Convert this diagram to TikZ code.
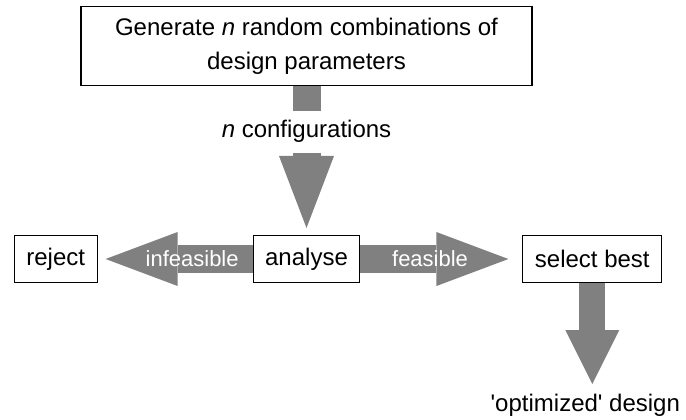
\documentclass[tikz,border=0pt]{standalone}
\usepackage{fontspec}
\setmainfont{Liberation Sans}
\usepackage{tikz}
\usetikzlibrary{arrows.meta}
\usetikzlibrary{positioning}
\definecolor{flowgray}{HTML}{808080}
\tikzset{
  % boxes and the grey block arrows
  box/.style={draw, line width=0.8pt, fill=white, inner xsep=9pt, minimum height=35.25pt},
  fat/.style={draw=flowgray, line width=21pt},
  flowlabel/.style={text=white, font=\fontsize{16.5}{20}\selectfont}
}

\begin{document}
\begin{tikzpicture}[font=\fontsize{18}{25.5}\selectfont]
    \useasboundingbox (0,0) rectangle (514.5pt,-314.25pt);

    % Place nodes
    \node [box] (analyse) at (229.875pt,-194.25pt) {analyse};
    \node [box, left=116.25pt of analyse] (reject) {reject};
    \node [box, right=121.5pt of analyse] (select) {select best};
    \node [box, align=center, minimum width=338.25pt, minimum height=59.25pt, above=111.75pt of analyse] (generate) {Generate \textit{n} random combinations of\\design parameters};
    \node [inner sep=0pt, minimum height=30.75pt, below=18.75pt of generate] (configs) {\textit{n} configurations};
    \node [inner sep=0pt, below=83.25pt of select, xshift=-5.25pt] (optimized) {\textquotesingle optimized\textquotesingle{} design};

    % Draw edges
    \draw [fat] (generate) -- (configs);
    \draw [fat, -{Triangle[length=54pt, width=41.25pt, line width=0pt]}, shorten >=5.25pt] (configs) -- (analyse);
    \draw [fat, -{Triangle[length=54pt, width=40.5pt, line width=0pt]}, shorten >=6pt] (analyse) -- node [flowlabel, pos=0.39] {infeasible} (reject);
    \draw [fat, -{Triangle[length=54pt, width=40.5pt, line width=0pt]}, shorten >=10.5pt] (analyse) -- node [flowlabel, pos=0.43] {feasible} (select);
    \draw [fat, line width=19.5pt, -{Triangle[length=40.5pt, width=40.5pt, line width=0pt]}, shorten >=7.5pt] (select.south) -- (select.south |- optimized.north);
\end{tikzpicture}
\end{document}
